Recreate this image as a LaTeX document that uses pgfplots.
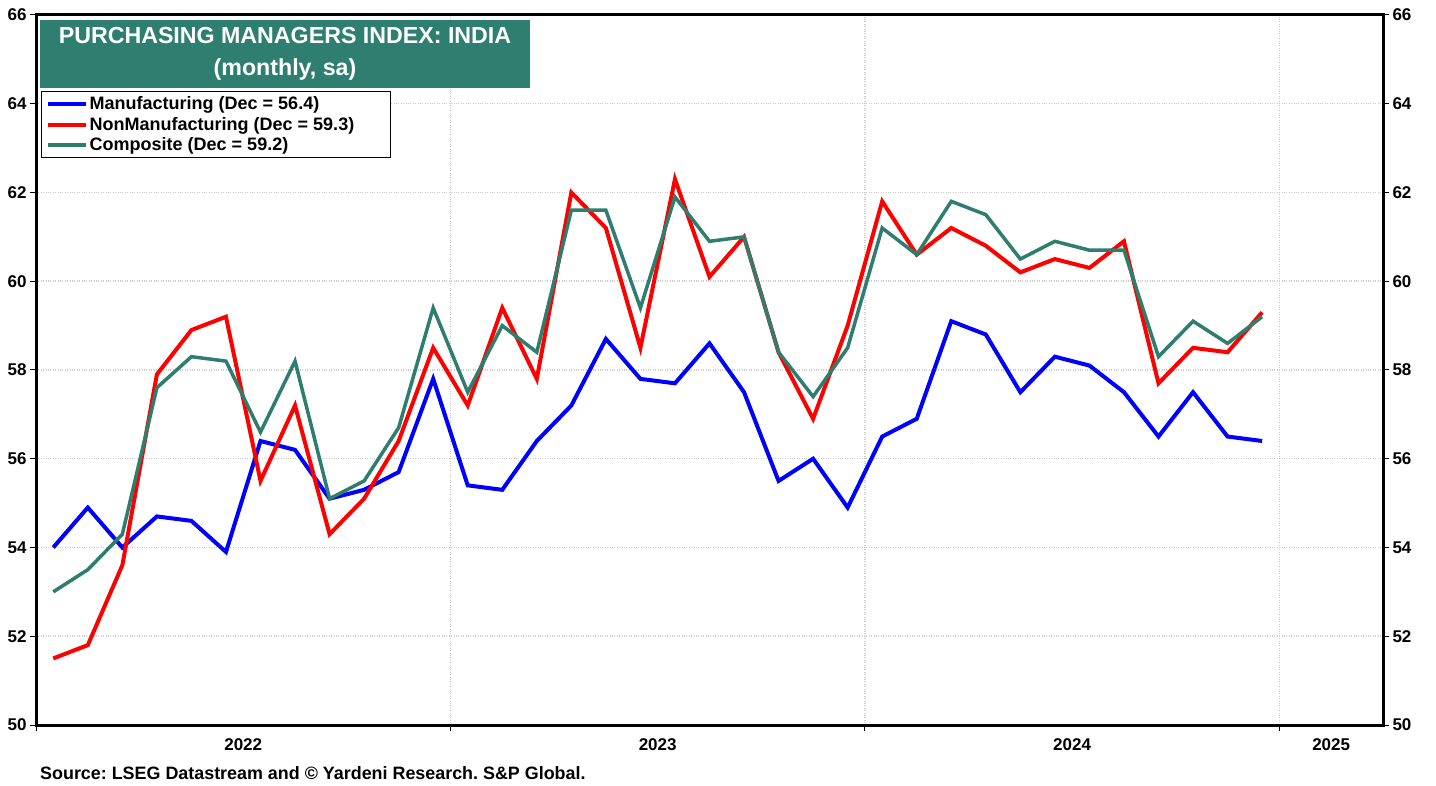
\documentclass[border=0pt]{standalone}
\usepackage{fontspec}
\setmainfont{Liberation Sans}
\usepackage{pgfplots}
\pgfplotsset{compat=1.18}
\usepackage{pgfplotstable}
\definecolor{pmiteal}{RGB}{46,125,110}
\definecolor{titleteal}{RGB}{47,127,112}
\definecolor{gridgray}{RGB}{205,205,205}
\frenchspacing

\pgfplotstableread{
x m s c
0.5 54.0 51.5 53.0
1.5 54.9 51.8 53.5
2.5 54.0 53.6 54.3
3.5 54.7 57.9 57.6
4.5 54.6 58.9 58.3
5.5 53.9 59.2 58.2
6.5 56.4 55.5 56.6
7.5 56.2 57.2 58.2
8.5 55.1 54.3 55.1
9.5 55.3 55.1 55.5
10.5 55.7 56.4 56.7
11.5 57.8 58.5 59.4
12.5 55.4 57.2 57.5
13.5 55.3 59.4 59.0
14.5 56.4 57.8 58.4
15.5 57.2 62.0 61.6
16.5 58.7 61.2 61.6
17.5 57.8 58.5 59.4
18.5 57.7 62.3 61.9
19.5 58.6 60.1 60.9
20.5 57.5 61.0 61.0
21.5 55.5 58.4 58.4
22.5 56.0 56.9 57.4
23.5 54.9 59.0 58.5
24.5 56.5 61.8 61.2
25.5 56.9 60.6 60.6
26.5 59.1 61.2 61.8
27.5 58.8 60.8 61.5
28.5 57.5 60.2 60.5
29.5 58.3 60.5 60.9
30.5 58.1 60.3 60.7
31.5 57.5 60.9 60.7
32.5 56.5 57.7 58.3
33.5 57.5 58.5 59.1
34.5 56.5 58.4 58.6
35.5 56.4 59.3 59.2
}\pmidata

\newcommand{\tickfont}{\bfseries\fontsize{17}{17}\selectfont}

\begin{document}
\begin{tikzpicture}[x=1pt,y=1pt]
\useasboundingbox (0,0) rectangle (1436,785);
\begin{axis}[
  at={(36pt,60pt)}, anchor=south west,
  scale only axis, width=1347pt, height=710pt,
  xmin=0, xmax=39, ymin=50, ymax=66,
  axis line style={line width=3pt, black},
  tick align=outside,
  major tick length=6pt,
  tick style={black, line width=1pt},
  ytick={50,52,...,66},
  ytick pos=left,
  xtick pos=bottom,
  xtick={0,12,24,36},
  xticklabels={},
  extra x ticks={6,18,30,37.5},
  extra x tick labels={2022,2023,2024,2025},
  extra x tick style={tick style={draw=none}, grid=none},
  xmajorgrids, ymajorgrids,
  major grid style={gridgray, dotted, line width=1.5pt},
  ticklabel style={font=\tickfont},
  /pgf/number format/assume math mode=true,
  xticklabel style={yshift=-4pt},
  legend style={at={(axis description cs:0.0037,0.893)}, anchor=north west,
    draw=black, line width=1.5pt, fill=white,
    font=\bfseries\fontsize{18}{18}\selectfont,
    inner xsep=4pt, inner ysep=3pt, row sep=2pt},
  legend cell align=left,
  legend image code/.code={\draw[#1] (0pt,0pt) -- (38pt,0pt);},
]
\addplot[blue, line width=4pt] table[x=x, y=m] {\pmidata};
\addlegendentry{Manufacturing (Dec = 56.4)}
\addplot[red, line width=4pt] table[x=x, y=s] {\pmidata};
\addlegendentry{NonManufacturing (Dec = 59.3)\rule{30pt}{0pt}}
\addplot[pmiteal, line width=3.5pt] table[x=x, y=c] {\pmidata};
\addlegendentry{Composite (Dec = 59.2)}
\end{axis}
\begin{axis}[
  at={(36pt,60pt)}, anchor=south west,
  scale only axis, width=1347pt, height=710pt,
  xmin=0, xmax=39, ymin=50, ymax=66,
  hide x axis,
  axis y line*=right,
  axis line style={line width=3pt, black},
  tick align=outside,
  major tick length=6pt,
  tick style={black, line width=1pt},
  ytick={50,52,...,66},
  ticklabel style={font=\tickfont},
  /pgf/number format/assume math mode=true,
]
\addplot[draw=none] coordinates {(0,50)};
\end{axis}
\fill[titleteal] (40,697) rectangle (530,765);
\node[white, font=\bfseries\fontsize{23.2}{23.2}\selectfont] at (285,749) {PURCHASING MANAGERS INDEX: INDIA};
\node[white, font=\bfseries\fontsize{23.2}{23.2}\selectfont] at (285,715) {(monthly, sa)};
\node[anchor=west, inner sep=0pt, font=\bfseries\fontsize{17.9}{17.9}\selectfont] at (40,12) {Source: LSEG Datastream and © Yardeni Research. S\&P Global.};
\end{tikzpicture}
\end{document}
